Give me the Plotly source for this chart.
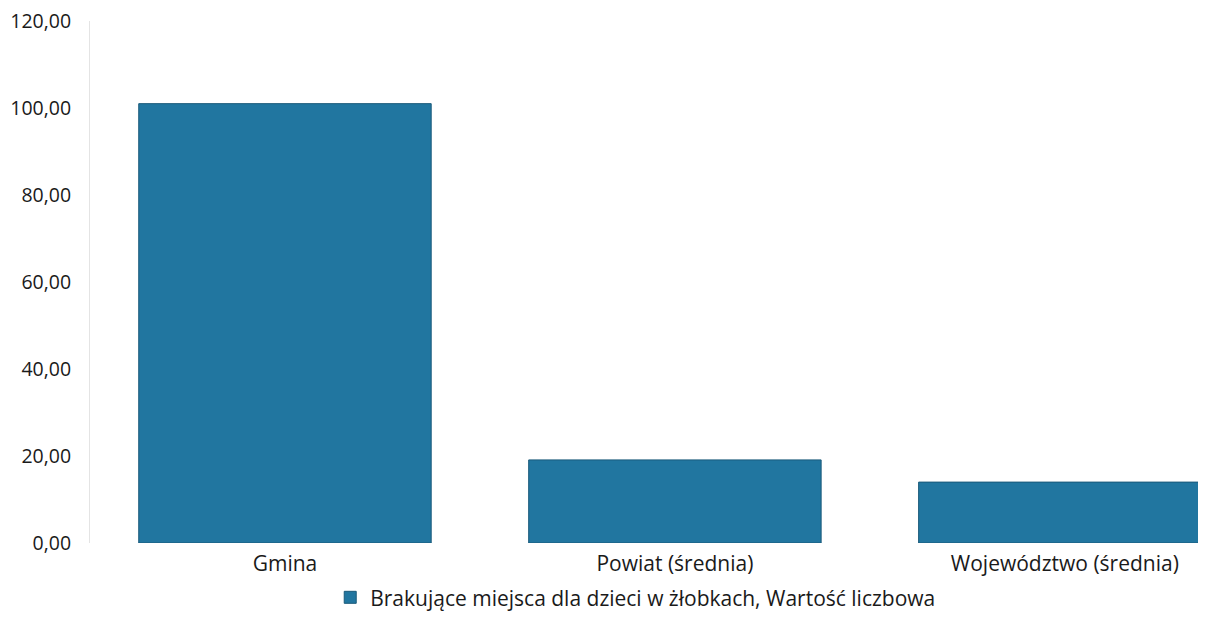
import plotly.graph_objects as go

categories = ["Gmina", "Powiat (średnia)", "Województwo (średnia)"]
values = [101.0, 19.1, 14.0]
series_name = "Brakujące miejsca dla dzieci w żłobkach, Wartość liczbowa"
y_ticks = [0, 20, 40, 60, 80, 100, 120]

fig = go.Figure()
fig.add_trace(go.Bar(
    x=categories, y=values, name=series_name,
    width=0.75,
    marker=dict(color="#2176a0", line=dict(color="#1a5a7a", width=1)),
    showlegend=True,
))

fig.update_layout(
    width=1198, height=607,
    margin=dict(l=82, r=0, t=13, b=72, autoexpand=False),
    paper_bgcolor="white", plot_bgcolor="white",
    separators=", ",
    font=dict(family="Open Sans", size=18, color="#1a1a1a"),
    showlegend=True,
    legend=dict(orientation="h", x=0.489, xanchor="center", y=-0.144, yanchor="bottom",
                font=dict(size=21, color="#1a1a1a")),
    xaxis=dict(range=[-0.5, 2.362], showgrid=False, showline=False, zeroline=False,
               automargin=False, tickfont=dict(size=21), ticks="", ticklabelstandoff=6,
               ticklabeloverflow="allow"),
    yaxis=dict(range=[0, 120], tickvals=y_ticks, tickformat=".2f", showgrid=False,
               zeroline=False, showline=True, linecolor="#e4e4e4", linewidth=1,
               automargin=False, tickfont=dict(size=19.5), ticks="", ticklabelstandoff=14,
               ticklabeloverflow="allow"),
)

fig.write_html("out.html")
